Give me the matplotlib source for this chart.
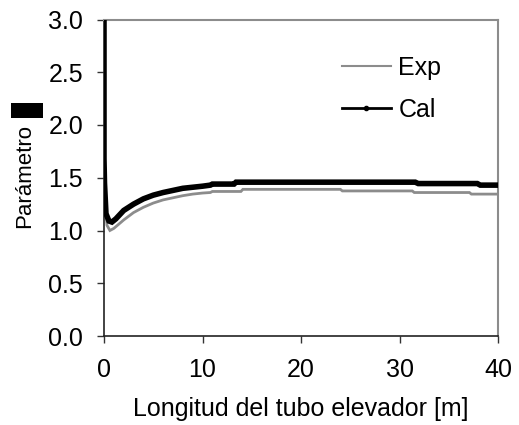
import matplotlib
matplotlib.use("Agg")
import matplotlib.pyplot as plt
from matplotlib.lines import Line2D
from matplotlib.patches import Rectangle

plt.rcParams['font.family'] = ['Liberation Sans', 'DejaVu Sans']

# Data
x_cal = [0, 0, 0.05, 0.2, 0.5, 0.8, 1.2, 1.6, 2.0, 3.0, 4.0, 5.0, 6.0, 7.0, 8.0, 9.0,
         10.0, 10.8, 11.0, 13.2, 13.4, 20.0, 25.0, 31.6, 31.9, 37.9, 38.2, 40.0]
y_cal = [3.0, 1.68, 1.45, 1.16, 1.09, 1.08, 1.11, 1.15, 1.19, 1.25, 1.30, 1.335, 1.36, 1.38, 1.40, 1.41,
         1.42, 1.43, 1.44, 1.44, 1.458, 1.458, 1.458, 1.458, 1.445, 1.445, 1.43, 1.43]

x_exp = [0, 0.1, 0.3, 0.6, 1.0, 1.5, 2.0, 3.0, 4.0, 5.0, 6.0, 7.0, 8.0, 9.0, 10.0,
         10.8, 11.0, 13.9, 14.1, 24.0, 24.2, 31.3, 31.5, 37.1, 37.3, 40.0]
y_exp = [1.47, 1.30, 1.05, 1.00, 1.02, 1.06, 1.10, 1.17, 1.22, 1.26, 1.29, 1.31, 1.33, 1.345, 1.355,
         1.36, 1.37, 1.37, 1.39, 1.39, 1.375, 1.375, 1.36, 1.36, 1.345, 1.345]

x_ticks = [0, 10, 20, 30, 40]
y_ticks = [0.0, 0.5, 1.0, 1.5, 2.0, 2.5, 3.0]
y_ticklabels = ["0.0", "0.5", "1.0", "1.5", "2.0", "2.5", "3.0"]
series_names = ["Exp", "Cal"]

FS = 18
W, H = 519, 425
fig = plt.figure(figsize=(W / 100, H / 100), dpi=100)
ax = fig.add_axes([104 / W, 1 - 336 / H, (498 - 104) / W, (336 - 19.5) / H])

ax.plot(x_exp, y_exp, color='#8c8c8c', lw=2.0, solid_joinstyle='miter', zorder=3)
ax.plot(x_cal, y_cal, color='black', lw=4.0, solid_joinstyle='miter', zorder=4)

ax.set_xlim(0, 40)
ax.set_ylim(0, 3.0)
ax.set_xticks(x_ticks)
ax.set_xticklabels([str(t) for t in x_ticks])
ax.set_yticks(y_ticks)
ax.set_yticklabels(y_ticklabels)
ax.tick_params(axis='both', direction='out', length=5, width=1, color='#333333',
               labelsize=FS, labelcolor='black')
ax.tick_params(axis='x', pad=10.5)
ax.tick_params(axis='y', pad=10)

for side in ['top', 'right']:
    ax.spines[side].set_color('#8c8c8c')
    ax.spines[side].set_linewidth(1.5)
for side in ['left', 'bottom']:
    ax.spines[side].set_color('#222222')
    ax.spines[side].set_linewidth(1.2)

ax.set_xlabel("Longitud del tubo elevador [m]", fontsize=FS, labelpad=11)

fig.text(25 / W, 1 - 176 / H, "Parámetro", rotation=90, fontsize=16,
         ha='center', va='center')
fig.patches.append(Rectangle((11 / W, 1 - 118 / H), 32 / W, 15 / H,
                             transform=fig.transFigure, facecolor='black',
                             edgecolor='none'))

handles = [Line2D([0], [0], color='#8c8c8c', lw=1.5),
           Line2D([0], [0], color='black', lw=2.0, marker='o', markersize=3,
                  markevery=[1])]
leg = ax.legend(handles, series_names, loc='upper left',
                bbox_to_anchor=(0.547, 0.955), frameon=False, fontsize=FS,
                handlelength=1.95, handletextpad=0.3, labelspacing=0.7)

fig.savefig("out.png", dpi=100)
